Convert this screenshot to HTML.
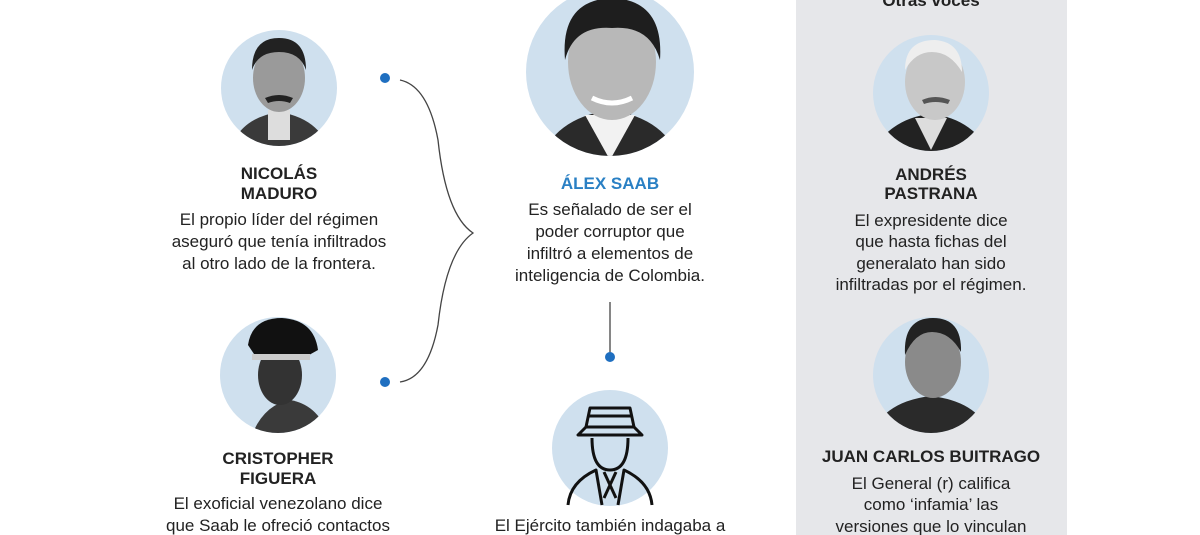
<!DOCTYPE html>
<html><head><meta charset="utf-8"><style>
html,body{margin:0;padding:0;background:#fff;}
svg{display:block}
text{font-family:"Liberation Sans Narrow","Liberation Sans",sans-serif;fill:#222;text-anchor:middle;}
.n{font-weight:bold;font-size:17px;}
.d{font-size:17px;}
</style></head><body>
<svg width="1200" height="535" viewBox="0 0 1200 535" xmlns="http://www.w3.org/2000/svg">
<defs>
<clipPath id="c1"><circle cx="279" cy="88" r="58"/></clipPath>
<clipPath id="c2"><circle cx="610" cy="72" r="84"/></clipPath>
<clipPath id="c3"><circle cx="278" cy="375" r="58"/></clipPath>
<clipPath id="c4"><circle cx="931" cy="93" r="58"/></clipPath>
<clipPath id="c5"><circle cx="931" cy="375" r="58"/></clipPath>
</defs>
<rect x="796" y="0" width="271" height="535" fill="#e6e7ea"/>

<!-- Maduro -->
<circle cx="279" cy="88" r="58" fill="#cfe0ee"/>
<g clip-path="url(#c1)">
<path d="M230 150 Q240 118 279 112 Q318 118 330 150 Z" fill="#3a3a3a"/>
<rect x="268" y="110" width="22" height="30" fill="#ddd"/>
<ellipse cx="279" cy="78" rx="26" ry="34" fill="#9a9a9a"/>
<path d="M252 70 Q252 38 279 38 Q306 38 306 70 Q300 52 279 52 Q258 52 252 70Z" fill="#222"/>
<path d="M265 98 Q279 92 293 98 L290 103 Q279 99 268 103Z" fill="#222"/>
</g>
<text class="n" x="279" y="179">NICOLÁS</text>
<text class="n" x="279" y="199">MADURO</text>
<text class="d" x="279" y="225">El propio líder del régimen</text>
<text class="d" x="279" y="247">aseguró que tenía infiltrados</text>
<text class="d" x="279" y="269">al otro lado de la frontera.</text>

<!-- Saab -->
<circle cx="610" cy="72" r="84" fill="#cfe0ee"/>
<g clip-path="url(#c2)">
<path d="M540 160 Q555 118 610 110 Q665 118 680 160 Z" fill="#2a2a2a"/>
<path d="M585 115 L610 160 L635 115Z" fill="#f2f2f2"/>
<ellipse cx="612" cy="62" rx="44" ry="58" fill="#b8b8b8"/>
<path d="M565 60 Q560 0 612 -2 Q664 0 660 60 Q650 25 612 28 Q574 25 565 60Z" fill="#1e1e1e"/>
<path d="M592 98 Q612 108 632 98" stroke="#fff" stroke-width="5" fill="none"/>
</g>
<text class="n" x="610" y="189" style="fill:#2a80c4">ÁLEX SAAB</text>
<text class="d" x="610" y="215">Es señalado de ser el</text>
<text class="d" x="610" y="237">poder corruptor que</text>
<text class="d" x="610" y="259">infiltró a elementos de</text>
<text class="d" x="610" y="281">inteligencia de Colombia.</text>

<!-- bracket -->
<circle cx="385" cy="78" r="5" fill="#1f6fc0"/>
<circle cx="385" cy="382" r="5" fill="#1f6fc0"/>
<path d="M400 80 Q428 86 438 140 Q446 215 473 233 Q446 252 438 325 Q428 378 400 382" stroke="#444" stroke-width="1.3" fill="none"/>

<!-- vertical -->
<line x1="610" y1="302" x2="610" y2="354" stroke="#444" stroke-width="1.3"/>
<circle cx="610" cy="357" r="5" fill="#1f6fc0"/>

<!-- spy -->
<circle cx="610" cy="448" r="58" fill="#cfe0ee"/>
<g stroke="#111" stroke-width="3" fill="none" stroke-linejoin="round">
<path d="M586 427 L590 408 L630 408 L634 427"/>
<line x1="588" y1="416" x2="632" y2="416"/>
<path d="M578 435 L642 435 L634 427 L586 427 Z"/>
<path d="M592 438 Q592 470 610 470 Q628 470 628 438"/>
<path d="M568 505 Q570 482 596 470 L602 505"/>
<path d="M652 505 Q650 482 624 470 L618 505"/>
<path d="M604 472 L616 498 M616 472 L604 498"/>
</g>
<text class="d" x="610" y="531">El Ejército también indagaba a</text>

<!-- Figuera -->
<circle cx="278" cy="375" r="58" fill="#cfe0ee"/>
<g clip-path="url(#c3)">
<path d="M250 440 Q262 405 290 400 Q320 405 330 440Z" fill="#3a3a3a"/>
<ellipse cx="280" cy="375" rx="22" ry="30" fill="#333"/>
<path d="M248 345 Q252 318 282 318 Q314 320 318 350 L300 360 L258 360Z" fill="#111"/>
<rect x="252" y="354" width="58" height="6" fill="#ccc"/>
</g>
<text class="n" x="278" y="464">CRISTOPHER</text>
<text class="n" x="278" y="484">FIGUERA</text>
<text class="d" x="278" y="509">El exoficial venezolano dice</text>
<text class="d" x="278" y="531">que Saab le ofreció contactos</text>

<!-- right panel -->
<text class="n" x="931" y="6">Otras voces</text>
<circle cx="931" cy="93" r="58" fill="#cfe0ee"/>
<g clip-path="url(#c4)">
<path d="M870 155 Q890 118 931 114 Q972 118 992 155Z" fill="#222"/>
<path d="M915 118 L931 150 L947 118Z" fill="#ddd"/>
<ellipse cx="935" cy="82" rx="30" ry="38" fill="#c8c8c8"/>
<path d="M905 70 Q905 40 935 40 Q962 42 962 72 Q950 52 932 52 Q915 52 905 70Z" fill="#eee"/>
<path d="M922 100 Q935 94 950 100 L948 104 Q935 100 924 104Z" fill="#555"/>
</g>
<text class="n" x="931" y="180">ANDRÉS</text>
<text class="n" x="931" y="199">PASTRANA</text>
<text class="d" x="931" y="226">El expresidente dice</text>
<text class="d" x="931" y="247">que hasta fichas del</text>
<text class="d" x="931" y="269">generalato han sido</text>
<text class="d" x="931" y="290">infiltradas por el régimen.</text>

<circle cx="931" cy="375" r="58" fill="#cfe0ee"/>
<g clip-path="url(#c5)">
<path d="M870 440 Q880 402 931 396 Q982 402 992 440Z" fill="#2a2a2a"/>
<ellipse cx="933" cy="362" rx="28" ry="36" fill="#8a8a8a"/>
<path d="M905 355 Q903 318 933 318 Q962 318 961 352 Q950 332 932 332 Q915 332 905 355Z" fill="#222"/>
</g>
<text class="n" x="931" y="462">JUAN CARLOS BUITRAGO</text>
<text class="d" x="931" y="489">El General (r) califica</text>
<text class="d" x="931" y="510">como ‘infamia’ las</text>
<text class="d" x="931" y="532">versiones que lo vinculan</text>
</svg>
</body></html>
